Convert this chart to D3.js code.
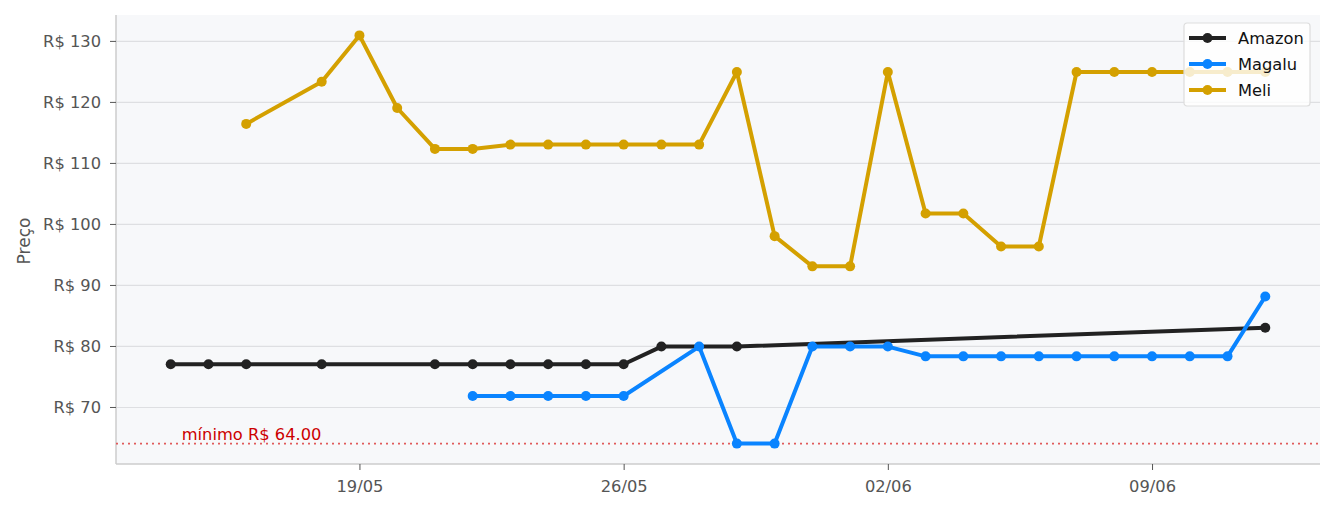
<!DOCTYPE html>
<html lang="pt">
<head>
    <meta charset="UTF-8">
    <title>Preço</title>
    <script src="https://d3js.org/d3.v7.min.js"></script>
    <style>
        body { margin: 0; background: #fff; font-family: "DejaVu Sans", sans-serif; }
        .axis line { stroke: #555; }
        .axis path { display: none; }
        .grid line { stroke: #dedfe2; stroke-width: 1.2; }
        .grid path { display: none; }
    </style>
</head>
<body>
    <svg width="1334" height="513"></svg>
    <script>
        // Data
        const amazonDates = ["2024-05-14","2024-05-15","2024-05-16","2024-05-18","2024-05-21","2024-05-22","2024-05-23","2024-05-24","2024-05-25","2024-05-26","2024-05-27","2024-05-29","2024-06-12"];
        const amazonPrices = [77, 77, 77, 77, 77, 77, 77, 77, 77, 77, 79.9, 79.9, 83.0];

        const magaluDates = ["2024-05-22","2024-05-23","2024-05-24","2024-05-25","2024-05-26","2024-05-28","2024-05-29","2024-05-30","2024-05-31","2024-06-01","2024-06-02","2024-06-03","2024-06-04","2024-06-05","2024-06-06","2024-06-07","2024-06-08","2024-06-09","2024-06-10","2024-06-11","2024-06-12"];
        const magaluPrices = [71.8, 71.8, 71.8, 71.8, 71.8, 79.9, 64, 64, 79.9, 79.9, 79.9, 78.3, 78.3, 78.3, 78.3, 78.3, 78.3, 78.3, 78.3, 78.3, 88.1];

        const meliDates = ["2024-05-16","2024-05-18","2024-05-19","2024-05-20","2024-05-21","2024-05-22","2024-05-23","2024-05-24","2024-05-25","2024-05-26","2024-05-27","2024-05-28","2024-05-29","2024-05-30","2024-05-31","2024-06-01","2024-06-02","2024-06-03","2024-06-04","2024-06-05","2024-06-06","2024-06-07","2024-06-08","2024-06-09","2024-06-10","2024-06-11","2024-06-12"];
        const meliPrices = [116.4, 123.3, 130.9, 119.0, 112.3, 112.3, 113.0, 113.0, 113.0, 113.0, 113.0, 113.0, 124.9, 98.0, 93.05, 93.05, 124.9, 101.7, 101.7, 96.3, 96.3, 124.9, 124.9, 124.9, 124.9, 124.9, 124.9];

        const yTicks = [70, 80, 90, 100, 110, 120, 130];
        const xTicks = ["2024-05-19", "2024-05-26", "2024-06-02", "2024-06-09"];
        const minPrice = 64;

        const parseDate = d3.timeParse("%Y-%m-%d");
        const series = [
            { name: "Amazon", color: "#222222", dates: amazonDates, prices: amazonPrices },
            { name: "Magalu", color: "#0a84ff", dates: magaluDates, prices: magaluPrices },
            { name: "Meli", color: "#d4a000", dates: meliDates, prices: meliPrices }
        ];
        series.forEach(s => {
            s.values = s.dates.map((d, i) => ({ date: parseDate(d), price: s.prices[i] }));
        });

        const margin = { top: 15, right: 14, bottom: 49, left: 116 };
        const width = 1334 - margin.left - margin.right;
        const height = 513 - margin.top - margin.bottom;
        const fontSize = "16.3px";

        const svg = d3.select("svg")
            .append("g")
            .attr("transform", `translate(${margin.left},${margin.top})`);

        // matplotlib-like 5% padding
        const allVals = series.flatMap(s => s.values);
        const dExt = d3.extent(allVals, d => d.date);
        const dPad = (dExt[1] - dExt[0]) * 0.05;
        const pExt = d3.extent(allVals, d => d.price);
        const pPad = (pExt[1] - pExt[0]) * 0.05;

        const x = d3.scaleTime()
            .domain([new Date(+dExt[0] - dPad), new Date(+dExt[1] + dPad)])
            .range([0, width]);
        const y = d3.scaleLinear()
            .domain([pExt[0] - pPad, pExt[1] + pPad])
            .range([height, 0]);

        // background
        svg.append("rect")
            .attr("width", width)
            .attr("height", height)
            .attr("fill", "#f7f8fa");

        // horizontal grid
        svg.append("g")
            .attr("class", "grid")
            .call(d3.axisLeft(y).tickValues(yTicks).tickSize(-width).tickFormat(""));

        // spines
        svg.append("line")
            .attr("x1", 0).attr("x2", 0).attr("y1", 0).attr("y2", height)
            .attr("stroke", "#cccccc").attr("stroke-width", 1.5);
        svg.append("line")
            .attr("x1", 0).attr("x2", width).attr("y1", height).attr("y2", height)
            .attr("stroke", "#cccccc").attr("stroke-width", 1.5);

        // axes
        const yAx = svg.append("g")
            .attr("class", "axis")
            .call(d3.axisLeft(y).tickValues(yTicks).tickSize(6).tickPadding(9).tickFormat(d => "R$ " + d));
        yAx.selectAll("text")
            .attr("fill", "#555")
            .style("font-size", fontSize)
            .style("font-family", "'DejaVu Sans', sans-serif");

        const xAx = svg.append("g")
            .attr("class", "axis")
            .attr("transform", `translate(0,${height})`)
            .call(d3.axisBottom(x).tickValues(xTicks.map(parseDate)).tickSize(6).tickPadding(10).tickFormat(d3.timeFormat("%d/%m")));
        xAx.selectAll("text")
            .attr("fill", "#555")
            .style("font-size", fontSize)
            .style("font-family", "'DejaVu Sans', sans-serif");

        // y label
        svg.append("text")
            .attr("transform", "rotate(-90)")
            .attr("x", -226)
            .attr("y", -86)
            .attr("fill", "#555")
            .style("font-size", "17px")
            .style("text-anchor", "middle")
            .text("Preço");

        // minimum line
        svg.append("line")
            .attr("x1", 0).attr("x2", width)
            .attr("y1", y(minPrice)).attr("y2", y(minPrice))
            .attr("stroke", "#e05a5a")
            .attr("stroke-width", 1.6)
            .attr("stroke-dasharray", "2,4");
        svg.append("text")
            .attr("x", x(dExt[0]) + 11)
            .attr("y", y(minPrice) - 4)
            .attr("fill", "#cc0000")
            .style("font-size", "16.3px")
            .text("mínimo R$ " + minPrice.toFixed(2));

        const line = d3.line().x(d => x(d.date)).y(d => y(d.price));

        series.forEach(s => {
            svg.append("path")
                .datum(s.values)
                .attr("fill", "none")
                .attr("stroke", s.color)
                .attr("stroke-width", 4)
                .attr("stroke-linejoin", "round")
                .attr("d", line);
            svg.selectAll(null)
                .data(s.values)
                .enter().append("circle")
                .attr("cx", d => x(d.date))
                .attr("cy", d => y(d.price))
                .attr("r", 5)
                .attr("fill", s.color);
        });

        // legend
        const lg = svg.append("g").attr("transform", `translate(${width - 136},8)`);
        lg.append("rect")
            .attr("width", 126).attr("height", 83)
            .attr("rx", 3)
            .attr("fill", "#ffffff").attr("fill-opacity", 0.8)
            .attr("stroke", "#dddddd").attr("stroke-width", 1.2);
        series.forEach((s, i) => {
            const row = lg.append("g").attr("transform", `translate(0,${15 + i * 26})`);
            row.append("line")
                .attr("x1", 5).attr("x2", 42)
                .attr("stroke", s.color).attr("stroke-width", 4);
            row.append("circle").attr("cx", 23.5).attr("r", 5).attr("fill", s.color);
            row.append("text")
                .attr("x", 54).attr("y", 6)
                .attr("fill", "#111")
                .style("font-size", fontSize)
                .text(s.name);
        });
    </script>
</body>
</html>
